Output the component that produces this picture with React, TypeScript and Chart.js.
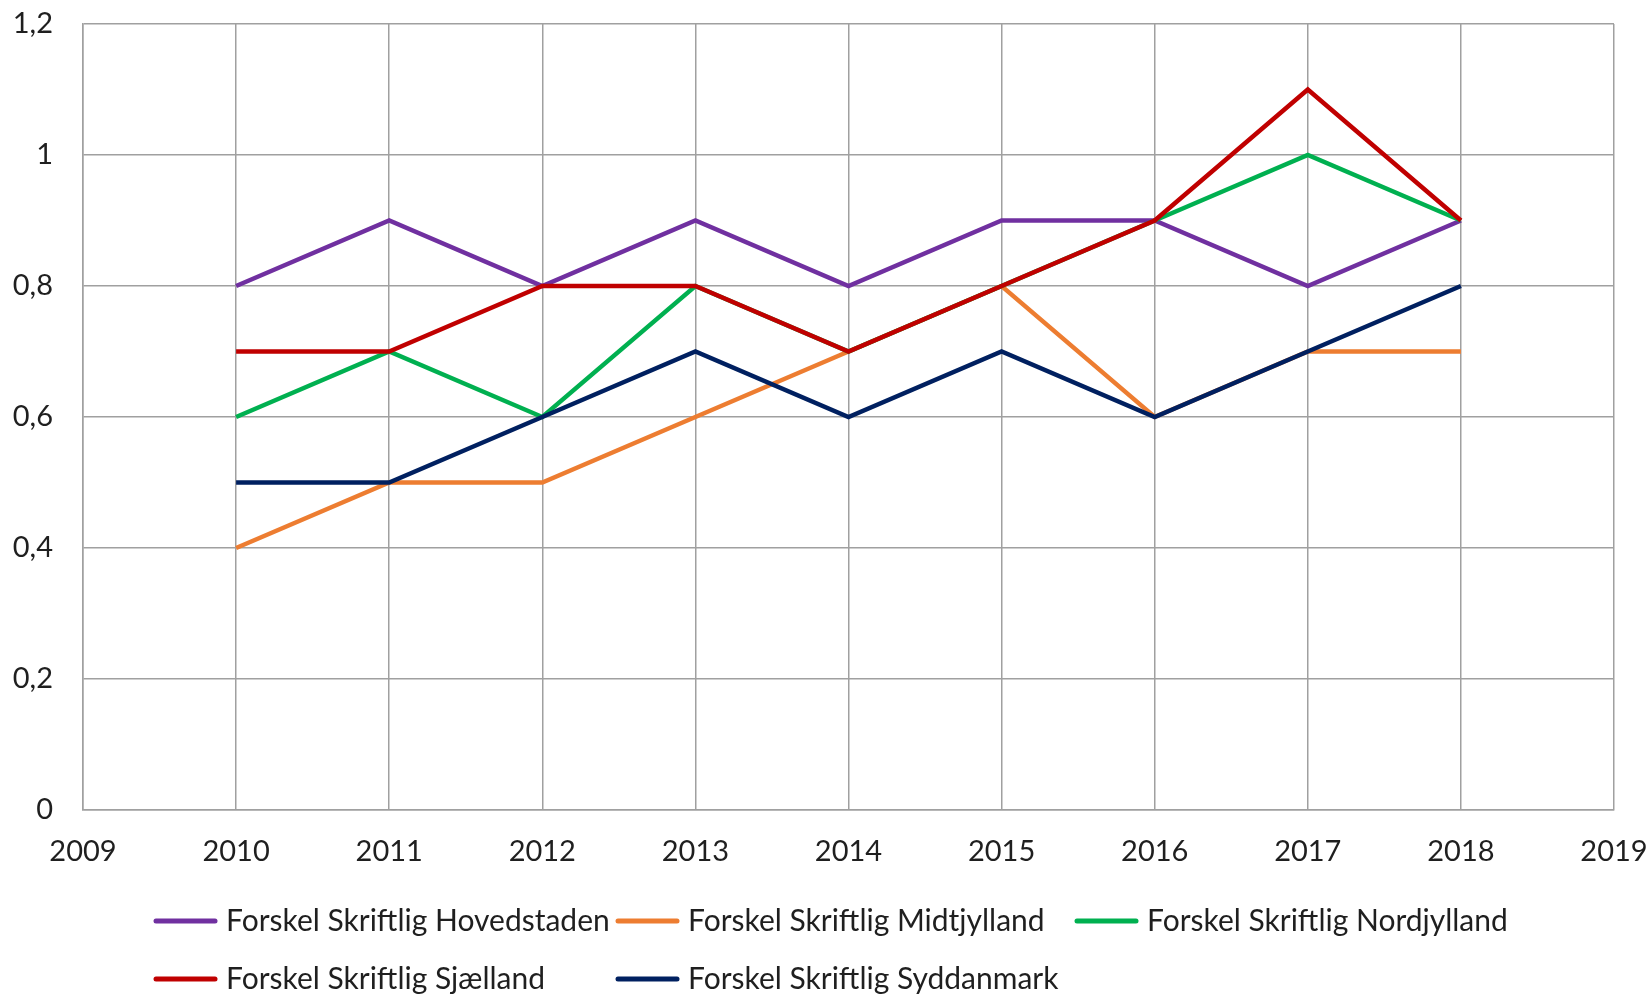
import React, { useEffect, useRef } from "react";
import { Chart, registerables } from "chart.js";

Chart.register(...registerables);

const years = [2010, 2011, 2012, 2013, 2014, 2015, 2016, 2017, 2018];
const seriesNames = [
  "Forskel Skriftlig Hovedstaden",
  "Forskel Skriftlig Midtjylland",
  "Forskel Skriftlig Nordjylland",
  "Forskel Skriftlig Sjælland",
  "Forskel Skriftlig Syddanmark",
];
const hovedstaden = [0.8, 0.9, 0.8, 0.9, 0.8, 0.9, 0.9, 0.8, 0.9];
const midtjylland = [0.4, 0.5, 0.5, 0.6, 0.7, 0.8, 0.6, 0.7, 0.7];
const nordjylland = [0.6, 0.7, 0.6, 0.8, 0.7, 0.8, 0.9, 1.0, 0.9];
const sjaelland = [0.7, 0.7, 0.8, 0.8, 0.7, 0.8, 0.9, 1.1, 0.9];
const syddanmark = [0.5, 0.5, 0.6, 0.7, 0.6, 0.7, 0.6, 0.7, 0.8];
const seriesValues = [hovedstaden, midtjylland, nordjylland, sjaelland, syddanmark];
const seriesColors = ["#7030A0", "#ED7D31", "#00B050", "#C00000", "#002060"];

const xMin = 2009;
const xMax = 2019;
const yMin = 0;
const yMax = 1.2;
const yStep = 0.2;

const FONT = "Lato, 'Noto Sans', sans-serif";
const TEXT_COLOR = "#1f1f1f";
const GRID_COLOR = "#a0a0a0";

// legend layout (grid like the original)
const legendCols = [156, 618, 1077];
const legendRows = [921, 979];
const legendLineLen = 63;
const legendTextGap = 7;

const legendPlugin = {
  id: "gridLegend",
  afterDraw(chart: any) {
    const ctx = chart.ctx;
    ctx.save();
    ctx.font = `30px ${FONT}`;
    ctx.textBaseline = "middle";
    ctx.textAlign = "left";
    seriesNames.forEach((name, i) => {
      const col = i < 3 ? i : i - 3;
      const row = i < 3 ? 0 : 1;
      const x = legendCols[col];
      const y = legendRows[row];
      ctx.strokeStyle = seriesColors[i];
      ctx.lineWidth = 5;
      ctx.lineCap = "round";
      ctx.beginPath();
      ctx.moveTo(x, y);
      ctx.lineTo(x + legendLineLen - 4, y);
      ctx.stroke();
      ctx.fillStyle = TEXT_COLOR;
      ctx.fillText(name, x + legendLineLen + legendTextGap, y);
    });
    ctx.restore();
  },
};

export default function App() {
  const ref = useRef<HTMLCanvasElement | null>(null);
  useEffect(() => {
    document.body.style.margin = "0";
    const canvas = ref.current!;
    const chart = new Chart(canvas, {
      type: "line",
      data: {
        datasets: seriesNames.map((name, i) => ({
          label: name,
          data: years.map((yr, j) => ({ x: yr, y: seriesValues[i][j] })),
          borderColor: seriesColors[i],
          backgroundColor: seriesColors[i],
          borderWidth: 4.5,
          pointRadius: 0,
          tension: 0,
          fill: false,
          order: seriesNames.length - i,
          borderJoinStyle: "miter" as const,
        })),
      },
      options: {
        responsive: false,
        animation: false,
        devicePixelRatio: 1,
        layout: { padding: { top: 24, right: 38, left: 0, bottom: 0 } },
        plugins: {
          legend: { display: false },
          tooltip: { enabled: false },
        },
        scales: {
          x: {
            type: "linear",
            min: xMin,
            max: xMax,
            ticks: {
              stepSize: 1,
              color: TEXT_COLOR,
              font: { family: FONT, size: 29 },
              padding: 24,
              callback: (v: any) => String(v),
              maxRotation: 0,
            },
            grid: { color: GRID_COLOR, lineWidth: 1.5, drawTicks: false },
            border: { color: GRID_COLOR, width: 1.5 },
            afterFit: (s: any) => {
              s.height = 996 - 810;
              s.paddingLeft = 0;
              s.paddingRight = 0;
            },
          },
          y: {
            min: yMin,
            max: yMax,
            ticks: {
              stepSize: yStep,
              color: TEXT_COLOR,
              font: { family: FONT, size: 29 },
              padding: 30,
              callback: (v: any) => String(Math.round(Number(v) * 10) / 10).replace(".", ","),
            },
            grid: { color: GRID_COLOR, lineWidth: 1.5, drawTicks: false },
            border: { color: GRID_COLOR, width: 1.5 },
            afterFit: (s: any) => {
              s.width = 83;
              s.paddingTop = 0;
              s.paddingBottom = 0;
            },
          },
        },
      },
      plugins: [legendPlugin],
    });
    return () => chart.destroy();
  }, []);
  return (
    <canvas
      ref={ref}
      width={1652}
      height={996}
      style={{ display: "block", width: 1652, height: 996 }}
    />
  );
}
